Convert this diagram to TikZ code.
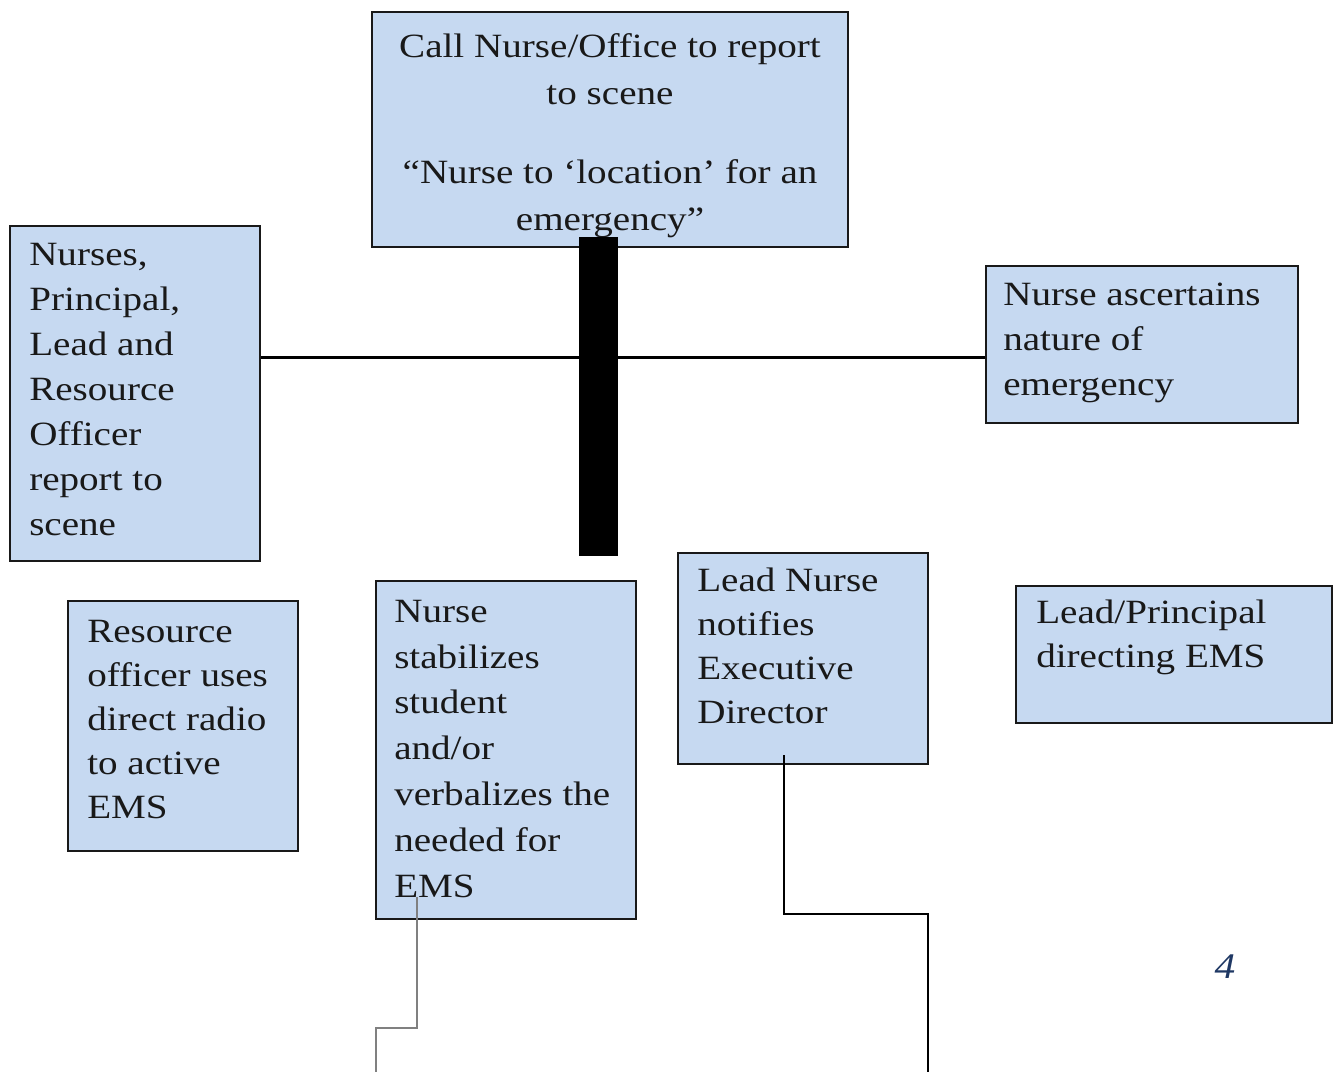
\documentclass[tikz,border=0pt]{standalone}
\usepackage{fontspec}
\setmainfont[FakeStretch=1.15]{Liberation Serif}
\usetikzlibrary{fit}
\definecolor{boxfill}{HTML}{C6D9F1}
\definecolor{pagenum}{HTML}{1F3864}
\definecolor{greyline}{HTML}{808080}
\begin{document}
\begin{tikzpicture}[x=0.75pt,y=-0.75pt,
  box/.style={draw=black!90, line width=1.5pt, fill=boxfill, inner sep=0pt, rectangle},
  txt/.style={inner sep=0pt, anchor=north west, align=left, text=black!90},
  fa/.style={font=\fontsize{25.5pt}{33.75pt}\selectfont},
  fb/.style={font=\fontsize{25.5pt}{33pt}\selectfont},
  fc/.style={font=\fontsize{25.5pt}{34.35pt}\selectfont},
  ft/.style={font=\fontsize{25.5pt}{35.25pt}\selectfont},
  conn/.style={draw=black, line width=1.5pt},
  gconn/.style={draw=greyline, line width=1.5pt},
  hconn/.style={draw=black, line width=2.25pt}]
\useasboundingbox[fill=white] (0,0) rectangle (1337,1072);

% boxes
\node[box, fit={(372,12) (848,247)}] (top) {};
\node[box, fit={(10,226) (260,561)}] (lbox) {};
\node[box, fit={(986,266) (1298,423)}] (rbox) {};
\node[box, fit={(68,601) (298,851)}] (robox) {};
\node[box, fit={(376,581) (636,919)}] (nsbox) {};
\node[box, fit={(678,553) (928,764)}] (lnbox) {};
\node[box, fit={(1016,586) (1332,723)}] (lpbox) {};

% texts
\node[txt, ft, anchor=north, align=center] (ttop) at (610,24.1)
  {\strut Call Nurse/Office to report\\ to scene\\[24pt] “Nurse to ‘location’ for an\\ emergency”};
\node[txt, fa] (tl) at (29,233.5)
  {\strut Nurses,\\ Principal,\\ Lead and\\ Resource\\ Officer\\ report to\\ scene};
\node[txt, fa] (tr) at (1003,273.5)
  {\strut Nurse ascertains\\ nature of\\ emergency};
\node[txt, fb] (tro) at (87,611.2)
  {\strut Resource\\ officer uses\\ direct radio\\ to active\\ EMS};
\node[txt, fc] (tns) at (394,590)
  {\strut Nurse\\ stabilizes\\ student\\ and/or\\ verbalizes the\\ needed for\\ EMS};
\node[txt, fb] (tln) at (697,560.2)
  {\strut Lead Nurse\\ notifies\\ Executive\\ Director};
\node[txt, fb] (tlp) at (1036,592.2)
  {\strut Lead/Principal\\ directing EMS};

% horizontal connector and black bar
\coordinate (hl) at (0,357);
\draw[hconn] (lbox.east |- hl) -- (rbox.west |- hl);
\node[fill=black, inner sep=0pt, fit={(579,237) (618,556)}] (bar) {};

% lower connectors
\coordinate (ns1) at (417,897);
\coordinate (ns2) at (417,1028);
\coordinate (ns3) at (376,1028);
\coordinate (ns4) at (376,1072);
\draw[gconn] (ns1) -- (ns2) -- (ns3) -- (ns4);

\coordinate (ln1) at (784,755);
\coordinate (ln2) at (784,914);
\coordinate (ln3) at (928,914);
\coordinate (ln4) at (928,1072);
\draw[conn] (ln1) -- (ln2) -- (ln3) -- (ln4);

% page number
\node[inner sep=0pt, anchor=base, text=pagenum, font=\fontsize{27pt}{32pt}\selectfont\itshape] (pg) at (1225,978) {4};
\end{tikzpicture}
\end{document}
